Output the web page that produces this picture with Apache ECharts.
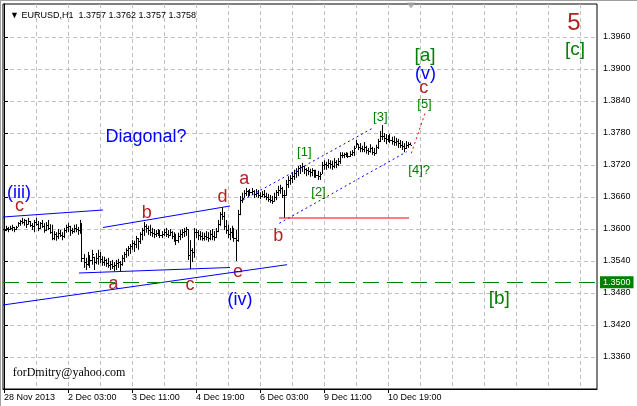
<!DOCTYPE html>
<html><head><meta charset="utf-8">
<script src="https://cdn.jsdelivr.net/npm/echarts@6/dist/echarts.min.js"></script>
<style>html,body{margin:0;padding:0;background:#fff}#c{width:637px;height:406px}</style>
</head><body><div id="c"></div>
<script>
// ---- data (EURUSD H1, bar index 0 = 28 Nov 2013 19:00) ----
const highs = [
1.3602,1.3606,1.3604,1.3606,1.3608,1.3604,1.3606,1.3613,1.3617,1.3621,
1.3619,1.3617,1.3621,1.3615,1.3611,1.3617,1.3621,1.3615,1.3613,1.3617,
1.3611,1.3613,1.3617,1.3609,1.3608,1.3596,1.3594,1.3600,1.3598,1.3594,
1.3602,1.3608,1.3611,1.3606,1.3602,1.3608,1.3609,1.3604,1.3617,1.3611,
1.3553,1.3546,1.3557,1.3551,1.3561,1.3548,1.3555,1.3561,1.3557,1.3549,
1.3548,1.3544,1.3546,1.3540,1.3542,1.3538,1.3542,1.3544,1.3540,1.3551,
1.3557,1.3564,1.3568,1.3572,1.3579,1.3578,1.3587,1.3583,1.3594,1.3602,
1.3613,1.3609,1.3606,1.3608,1.3602,1.3600,1.3598,1.3600,1.3598,1.3596,
1.3600,1.3602,1.3598,1.3600,1.3596,1.3594,1.3591,1.3593,1.3598,1.3600,
1.3602,1.3604,1.3600,1.3579,1.3564,1.3602,1.3600,1.3598,1.3596,1.3594,
1.3593,1.3596,1.3594,1.3598,1.3600,1.3596,1.3602,1.3617,1.3632,1.3641,
1.3632,1.3617,1.3608,1.3602,1.3606,1.3602,1.3598,1.3636,1.3662,1.3668,
1.3673,1.3677,1.3673,1.3675,1.3677,1.3673,1.3675,1.3673,1.3669,1.3671,
1.3673,1.3668,1.3666,1.3664,1.3662,1.3668,1.3673,1.3681,1.3683,1.3679,
1.3673,1.3692,1.3699,1.3701,1.3707,1.3711,1.3714,1.3718,1.3720,1.3724,
1.3718,1.3714,1.3716,1.3713,1.3714,1.3711,1.3711,1.3709,1.3707,1.3726,
1.3729,1.3726,1.3731,1.3729,1.3728,1.3733,1.3729,1.3733,1.3744,1.3744,
1.3743,1.3744,1.3743,1.3746,1.3748,1.3756,1.3767,1.3759,1.3761,1.3756,
1.3763,1.3756,1.3752,1.3759,1.3754,1.3752,1.3758,1.3769,1.3784,1.3795,
1.3780,1.3778,1.3776,1.3778,1.3773,1.3774,1.3771,1.3769,1.3767,1.3765,
1.3761,1.3765,1.3763,1.3762];
const lows = [
1.3594,1.3596,1.3594,1.3598,1.3596,1.3594,1.3598,1.3604,1.3606,1.3609,
1.3606,1.3602,1.3608,1.3604,1.3598,1.3594,1.3606,1.3596,1.3600,1.3602,
1.3593,1.3596,1.3598,1.3591,1.3579,1.3579,1.3578,1.3581,1.3585,1.3579,
1.3583,1.3593,1.3594,1.3587,1.3591,1.3593,1.3594,1.3589,1.3591,1.3538,
1.3527,1.3523,1.3531,1.3527,1.3533,1.3523,1.3534,1.3533,1.3536,1.3531,
1.3531,1.3529,1.3527,1.3523,1.3525,1.3521,1.3523,1.3527,1.3521,1.3531,
1.3538,1.3546,1.3549,1.3553,1.3561,1.3557,1.3564,1.3561,1.3572,1.3579,
1.3587,1.3593,1.3589,1.3587,1.3585,1.3583,1.3585,1.3587,1.3583,1.3583,
1.3587,1.3585,1.3583,1.3587,1.3581,1.3576,1.3570,1.3574,1.3579,1.3583,
1.3585,1.3587,1.3542,1.3525,1.3538,1.3546,1.3583,1.3579,1.3579,1.3578,
1.3578,1.3579,1.3576,1.3579,1.3579,1.3578,1.3583,1.3594,1.3606,1.3617,
1.3598,1.3591,1.3583,1.3579,1.3583,1.3576,1.3540,1.3576,1.3626,1.3649,
1.3658,1.3662,1.3660,1.3662,1.3664,1.3658,1.3660,1.3658,1.3656,1.3660,
1.3658,1.3654,1.3651,1.3649,1.3647,1.3651,1.3654,1.3662,1.3666,1.3658,
1.3621,1.3662,1.3677,1.3683,1.3686,1.3692,1.3696,1.3699,1.3703,1.3707,
1.3703,1.3699,1.3701,1.3698,1.3699,1.3696,1.3696,1.3692,1.3692,1.3703,
1.3711,1.3711,1.3714,1.3713,1.3711,1.3714,1.3714,1.3718,1.3722,1.3733,
1.3733,1.3735,1.3733,1.3735,1.3737,1.3737,1.3752,1.3748,1.3744,1.3744,
1.3744,1.3741,1.3739,1.3743,1.3739,1.3737,1.3741,1.3750,1.3763,1.3767,
1.3763,1.3759,1.3763,1.3761,1.3758,1.3756,1.3756,1.3752,1.3752,1.3748,
1.3744,1.3750,1.3752,1.3757];
const closes = [
1.3598,1.3602,1.3600,1.3602,1.3604,1.3600,1.3604,1.3611,1.3615,1.3613,
1.3617,1.3609,1.3615,1.3608,1.3606,1.3613,1.3609,1.3602,1.3611,1.3606,
1.3598,1.3608,1.3602,1.3594,1.3583,1.3591,1.3587,1.3593,1.3589,1.3587,
1.3598,1.3604,1.3606,1.3598,1.3596,1.3602,1.3600,1.3598,1.3609,1.3546,
1.3538,1.3534,1.3549,1.3542,1.3553,1.3538,1.3546,1.3549,1.3544,1.3538,
1.3542,1.3536,1.3533,1.3534,1.3531,1.3533,1.3536,1.3538,1.3534,1.3546,
1.3553,1.3561,1.3564,1.3568,1.3574,1.3572,1.3583,1.3578,1.3591,1.3598,
1.3606,1.3602,1.3598,1.3594,1.3593,1.3591,1.3593,1.3594,1.3589,1.3591,
1.3594,1.3591,1.3589,1.3594,1.3587,1.3583,1.3579,1.3587,1.3591,1.3594,
1.3596,1.3600,1.3551,1.3561,1.3557,1.3594,1.3594,1.3589,1.3587,1.3583,
1.3587,1.3585,1.3583,1.3591,1.3587,1.3585,1.3596,1.3609,1.3628,1.3624,
1.3606,1.3598,1.3591,1.3594,1.3589,1.3583,1.3579,1.3628,1.3654,1.3658,
1.3668,1.3671,1.3666,1.3669,1.3671,1.3666,1.3668,1.3664,1.3662,1.3666,
1.3662,1.3660,1.3656,1.3654,1.3653,1.3660,1.3669,1.3673,1.3677,1.3664,
1.3664,1.3684,1.3692,1.3696,1.3699,1.3705,1.3709,1.3714,1.3716,1.3718,
1.3713,1.3711,1.3709,1.3707,1.3711,1.3705,1.3701,1.3699,1.3703,1.3720,
1.3722,1.3720,1.3724,1.3722,1.3718,1.3726,1.3722,1.3728,1.3739,1.3739,
1.3741,1.3739,1.3737,1.3741,1.3744,1.3752,1.3761,1.3754,1.3752,1.3750,
1.3754,1.3748,1.3746,1.3752,1.3744,1.3743,1.3754,1.3765,1.3774,1.3774,
1.3771,1.3769,1.3771,1.3767,1.3765,1.3763,1.3765,1.3761,1.3758,1.3756,
1.3752,1.3758,1.3759,1.3758];
const firstOpen = 1.3600;
const totalSlots = 297;                       // bars + empty shift area
const yTickValues = [1.3360,1.3420,1.3480,1.3540,1.3600,1.3660,1.3720,1.3780,1.3840,1.3900,1.3960];
const xTickIndex = [0,32,64,96,128,160,192];
const xTickText = ['28 Nov 2013','2 Dec 03:00','3 Dec 11:00','4 Dec 19:00','6 Dec 03:00','9 Dec 11:00','10 Dec 19:00'];
const levelPrice = 1.3500;
const titleText = '\u25BC EURUSD,H1  1.3757 1.3762 1.3757 1.3758';
// trend lines: [bar1, price1, bar2, price2, kind]
const trendLines = [
  [-0.5, 1.36225, 49.5, 1.36356, 'blue'],
  [49.5, 1.36028, 113, 1.36431, 'blue'],
  [37.5, 1.35175, 113, 1.35278, 'blue'],
  [-0.5, 1.34575, 141.5, 1.35331, 'blue'],
  [119.5, 1.36544, 183.85, 1.37881, 'blueDot'],
  [137.65, 1.36107, 201.35, 1.37449, 'blueDot'],
  [203.65, 1.37419, 210.5, 1.38169, 'redDot'],
  [137.5, 1.36206, 202.5, 1.36206, 'red']
];
// annotations
const labelTexts = ['(iii)','c','Diagonal?','a','b','c','d','e','(iv)','a','b','[1]','[2]','[3]','[4]?','[5]','c','(v)','[a]','5','[c]','[b]','forDmitry@yahoo.com'];
const labelBars  = [7.5,7.75,71,54.75,71.35,93,109.25,117,118,120.15,137.15,150.15,157.25,188.15,207.6,210.25,209.9,210.75,210.5,284.9,285.5,247.65,4.35];
const labelPrices= [1.36675,1.36422,1.37725,1.34969,1.3630,1.34941,1.3660,1.35184,1.34669,1.36938,1.35859,1.3744,1.36694,1.3810,1.37091,1.38338,1.38634,1.38903,1.39257,1.39848,1.39362,1.34691,1.3330];
const labelKinds = ['blue','wave','blue','wave','wave','wave','wave','wave','blue','wave','wave','minor','minor','minor','minor','minor','wave','blue','green','big','green','green','mail'];

// ---- styles ----
const SANS = '"Liberation Sans", Arial, sans-serif';
const textStyles = {
  blue:  {font: '18px ' + SANS, color: '#0000ff'},
  wave:  {font: '18px ' + SANS, color: '#b22222'},
  big:   {font: '24px ' + SANS, color: '#b22222'},
  green: {font: '19px ' + SANS, color: '#008000'},
  minor: {font: '13px ' + SANS, color: '#008000'},
  mail:  {font: '12px "Liberation Serif", serif', color: '#000000', align: 'left'}
};
const lineStyles = {
  blue:    {color: '#0000ff', type: 'solid', width: 1},
  blueDot: {color: '#0000ff', type: [2, 3], width: 1},
  redDot:  {color: '#ff0000', type: [2, 3], width: 1},
  red:     {color: '#ff0000', type: 'solid', width: 1}
};

// ---- build ----
const categories = [];
for (let i = 0; i < totalSlots; i++) categories.push(String(i));
const ohlc = highs.map((h, i) => {
  const l = lows[i];
  let o = i === 0 ? firstOpen : closes[i - 1];
  o = Math.min(h, Math.max(l, o));
  return [i, o, closes[i], l, h];
});

const series = [{
  type: 'custom', xAxisIndex: 0, yAxisIndex: 0, silent: true,
  data: ohlc,
  encode: {x: 0, y: [1, 2, 3, 4]},
  renderItem(params, api) {
    const i = api.value(0);
    const pO = api.coord([i, api.value(1)]);
    const pC = api.coord([i, api.value(2)]);
    const pL = api.coord([i, api.value(3)]);
    const pH = api.coord([i, api.value(4)]);
    const xc = Math.floor(pH[0]);
    const st = {stroke: '#000', lineWidth: 1};
    return {type: 'group', children: [
      {type: 'line', shape: {x1: xc + 0.5, y1: pH[1], x2: xc + 0.5, y2: pL[1]}, style: st},
      {type: 'line', shape: {x1: xc - 1, y1: Math.round(pO[1]) + 0.5, x2: xc, y2: Math.round(pO[1]) + 0.5}, style: st},
      {type: 'line', shape: {x1: xc + 1, y1: Math.round(pC[1]) + 0.5, x2: xc + 2, y2: Math.round(pC[1]) + 0.5}, style: st}
    ]};
  },
  markLine: {
    silent: true, symbol: 'none', animation: false,
    data: [{yAxis: levelPrice}],
    lineStyle: {color: '#008000', type: [16, 8], width: 1},
    label: {show: true, position: 'end', formatter: levelPrice.toFixed(4), color: '#fff',
      backgroundColor: '#008000', padding: [2, 3, 1, 3], fontSize: 9, fontFamily: SANS, distance: 3}
  }
}];
trendLines.forEach(t => {
  series.push({
    type: 'line', xAxisIndex: 1, yAxisIndex: 0, silent: true, symbol: 'none',
    data: [[t[0], t[1]], [t[2], t[3]]],
    lineStyle: lineStyles[t[4]]
  });
});
series.push({
  type: 'custom', xAxisIndex: 1, yAxisIndex: 0, silent: true,
  data: labelBars.map((b, i) => [b, labelPrices[i]]),
  encode: {x: 0, y: 1},
  renderItem(params, api) {
    const k = params.dataIndex;
    const p = api.coord([api.value(0), api.value(1)]);
    const st = textStyles[labelKinds[k]];
    return {type: 'text', x: p[0], y: p[1],
      style: {text: labelTexts[k], fill: st.color, font: st.font, align: st.align || 'center', verticalAlign: 'middle'}};
  }
});
// chart shift marker
series.push({
  type: 'scatter', xAxisIndex: 1, yAxisIndex: 0, silent: true,
  data: [[ohlc.length - 0.5, 1.40191]], symbol: 'triangle', symbolRotate: 180,
  symbolSize: [9, 6], itemStyle: {color: '#a0a0a0'}
});

const gridDash = {color: '#c0c0c0', type: [4, 3], width: 1};
const option = {
  animation: false,
  backgroundColor: '#fff',
  title: {text: titleText, left: 5, top: 6, textStyle: {fontSize: 9, fontWeight: 'normal', color: '#000', fontFamily: SANS}},
  grid: {left: 3, right: 40, top: 4, bottom: 17, show: true, borderColor: '#000', borderWidth: 1, backgroundColor: '#fff'},
  xAxis: [{
    type: 'category', data: categories, boundaryGap: true,
    axisLine: {show: true, lineStyle: {color: '#000'}},
    axisTick: {show: true, alignWithLabel: true, length: 4, lineStyle: {color: '#000'},
      interval: (i) => xTickIndex.indexOf(i) >= 0},
    axisLabel: {show: true, color: '#000', fontSize: 9, fontFamily: SANS, align: 'left', margin: 4,
      interval: (i) => xTickIndex.indexOf(i) >= 0,
      formatter: (v, i) => { const k = xTickIndex.indexOf(Number(v)); return k >= 0 ? xTickText[k] : ''; }},
    splitLine: {show: true, alignWithLabel: true, interval: (i) => i > 0 && i % 16 === 0, lineStyle: gridDash}
  }, {
    type: 'value', min: -0.5, max: totalSlots - 0.5, show: false,
    axisLine: {show: false}, axisTick: {show: false}, axisLabel: {show: false}, splitLine: {show: false}
  }],
  yAxis: [{
    type: 'value', position: 'right', min: 1.3300, max: 1.4021875, scale: true,
    axisLine: {show: true, lineStyle: {color: '#000'}},
    axisTick: {show: true, length: 4, lineStyle: {color: '#000'}, customValues: yTickValues},
    axisLabel: {show: true, color: '#000', fontSize: 9, fontFamily: SANS, margin: 6,
      customValues: yTickValues, formatter: (v) => v.toFixed(4)},
    splitLine: {show: true, lineStyle: gridDash}
  }],
  graphic: [
    {type: 'line', shape: {x1: 0, y1: 0.5, x2: 637, y2: 0.5}, style: {stroke: '#a0a0a0', lineWidth: 1}, silent: true},
    {type: 'line', shape: {x1: 0.5, y1: 0, x2: 0.5, y2: 406}, style: {stroke: '#a0a0a0', lineWidth: 1}, silent: true}
  ],
  series: series
};
const chart = echarts.init(document.getElementById('c'), null, {renderer: 'canvas'});
chart.setOption(option);
</script>
</body></html>
